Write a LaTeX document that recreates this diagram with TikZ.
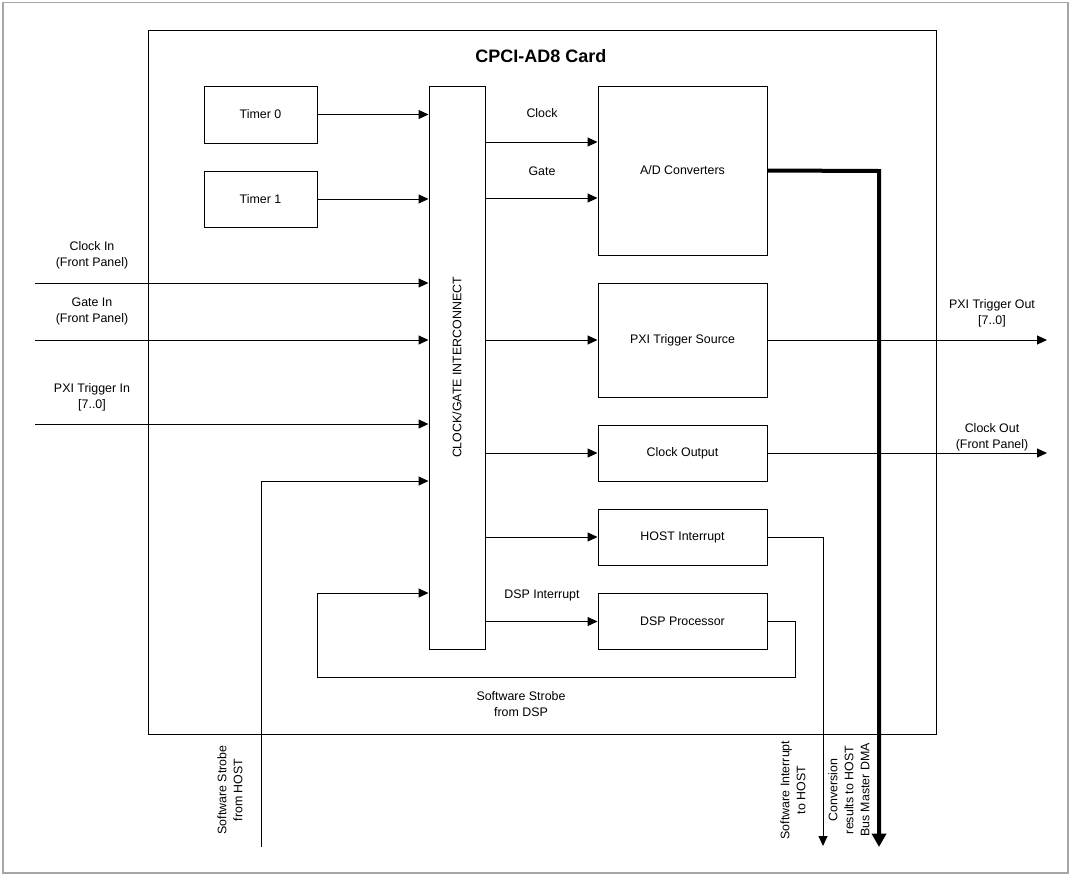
\documentclass[tikz,border=0pt]{standalone}
\usepackage{fontspec}
\setmainfont{Liberation Sans}
\usetikzlibrary{arrows.meta}
\begin{document}
\begin{tikzpicture}[x=0.75pt,y=-0.75pt,
  every node/.style={font=\fontsize{9.3}{12}\selectfont},
  box/.style={draw=black,line width=0.75pt,minimum width=126.75pt,inner sep=0pt},
  lbl/.style={align=center,inner sep=0pt},
  wire/.style={line width=0.75pt},
  arr/.style={wire,-{Triangle[length=7.5pt,width=6.75pt]}},
  bus/.style={line width=3pt,line join=miter,-{Triangle[length=10pt,width=10.5pt]}}]
\useasboundingbox (0,0) rectangle (1070,875);
\draw[gray!70,line width=1.2pt] (3,2.5) rectangle (1068,873);
% card
\node[draw=black,line width=0.75pt,minimum width=591pt,minimum height=528pt,inner sep=0pt] (card) at (542,382) {};
\node[font=\fontsize{13.5}{16}\selectfont\bfseries] (title) at (541,56) {CPCI-AD8 Card};
% boxes
\node[box,minimum width=84.75pt,minimum height=42.75pt] (t0) at (260.5,114.5) {Timer 0};
\node[box,minimum width=84.75pt,minimum height=42pt] (t1) at (260.5,199) {Timer 1};
\node[box,minimum width=42pt,minimum height=422.25pt] (ic) at (457,367.5) {};
\node[rotate=90,inner sep=0pt] (ictext) at (ic.center) {CLOCK/GATE INTERCONNECT};
\node[box,minimum height=126.75pt] (ad) at (682.5,170.5) {A/D Converters};
\node[box,minimum height=85.5pt] (pxs) at (682.5,340) {PXI Trigger Source};
\node[box,minimum height=42pt] (co) at (682.5,453) {Clock Output};
\node[box,minimum height=42pt] (hi) at (682.5,537) {HOST Interrupt};
\node[box,minimum height=42pt] (dsp) at (682.5,621.5) {DSP Processor};
% coordinates
\coordinate (cin) at (35,283);
\coordinate (gin) at (35,340);
\coordinate (pin) at (35,424);
\coordinate (swh) at (261,847);
\coordinate (swhT) at (261,481);
\coordinate (clk) at (485,142);
\coordinate (gat) at (485,198);
\coordinate (pxo) at (1047,340);
\coordinate (cko) at (1047,453);
\coordinate (hiR) at (823,537);
\coordinate (hiB) at (823,846);
\coordinate (dR) at (795,621.5);
\coordinate (dB) at (795,677);
\coordinate (dL) at (317,677);
\coordinate (dT) at (317,593);
\coordinate (busR) at (879,171);
\coordinate (busB) at (879,847);
% inputs
\draw[arr] (t0.east) -- (t0.east -| ic.west);
\draw[arr] (t1.east) -- (t1.east -| ic.west);
\draw[arr] (cin) -- (cin -| ic.west);
\draw[arr] (gin) -- (gin -| ic.west);
\draw[arr] (pin) -- (pin -| ic.west);
\draw[arr] (swh) -- (swhT) -- (swhT -| ic.west);
\draw[arr] (dsp.east) -- (dR) -- (dB) -- (dL) -- (dT) -- (dT -| ic.west);
% outputs
\draw[arr] (clk) -- (clk -| ad.west);
\draw[arr] (gat) -- (gat -| ad.west);
\draw[arr] (pxs.west -| ic.east) -- (pxs.west);
\draw[arr] (co.west -| ic.east) -- (co.west);
\draw[arr] (hi.west -| ic.east) -- (hi.west);
\draw[arr] (dsp.west -| ic.east) -- (dsp.west);
\draw[arr] (pxs.east) -- (pxo);
\draw[arr] (co.east) -- (cko);
\draw[arr] (hi.east) -- (hiR) -- (hiB);
\draw[bus] (ad.east) -- (busR) -- (busB);
% labels
\node[lbl] (lclk) at (542,113) {Clock};
\node[lbl] (lgat) at (542,171) {Gate};
\node[lbl] (ldspi) at (542,595) {DSP Interrupt};
\node[lbl] (lswd) at (521,704.5) {Software Strobe\\from DSP};
\node[lbl] (lcin) at (92,255) {Clock In\\(Front Panel)};
\node[lbl] (lgin) at (92,311) {Gate In\\(Front Panel)};
\node[lbl] (lpin) at (92,397) {PXI Trigger In\\{}[7..0]};
\node[lbl] (lpxo) at (992,313) {PXI Trigger Out\\{}[7..0]};
\node[lbl] (lcko) at (992,437) {Clock Out\\(Front Panel)};
\node[lbl,rotate=90] (lswh) at (230,790) {Software Strobe\\from HOST};
\node[lbl,rotate=90] (lsih) at (793,790) {Software Interrupt\\to HOST};
\node[lbl,rotate=90] (ldma) at (849,790) {Conversion\\results to HOST\\Bus Master DMA};
\end{tikzpicture}
\end{document}
